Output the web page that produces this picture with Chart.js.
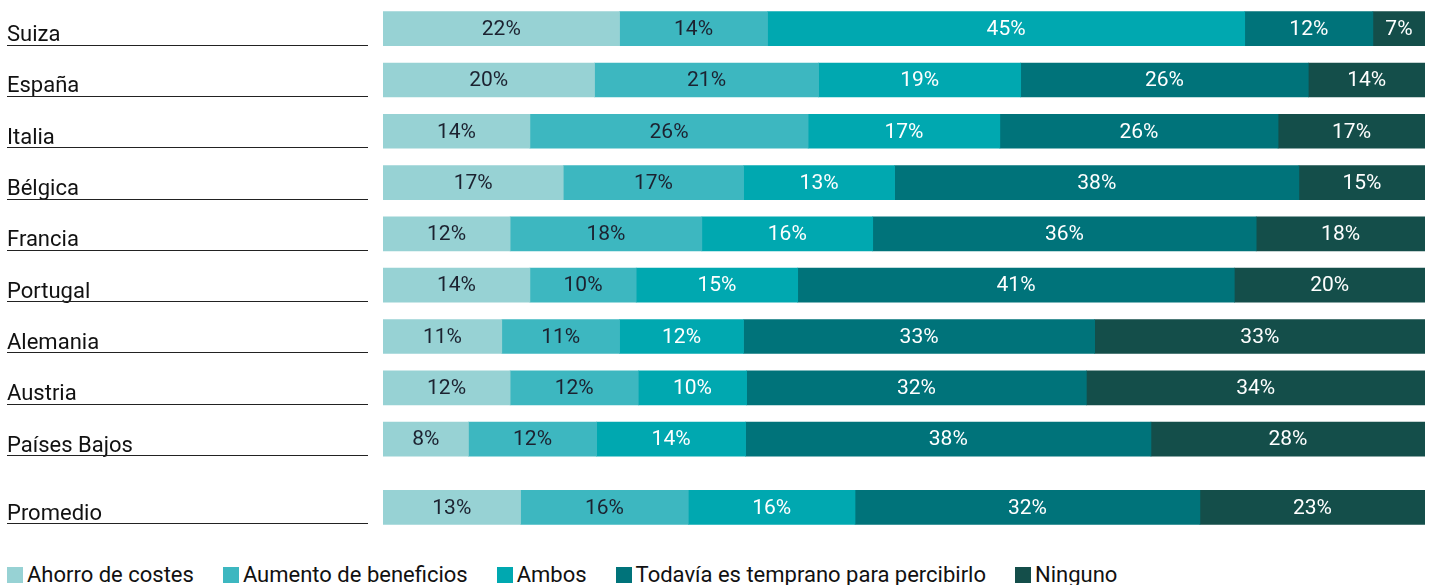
<!DOCTYPE html>
<html lang="es">
<head>
<meta charset="utf-8">
<title>Beneficios percibidos por país</title>
<script src="https://cdn.jsdelivr.net/npm/chart.js@4.4.1/dist/chart.umd.min.js"></script>
<style>
    html, body { margin: 0; padding: 0; background: #fff; }
    .wrap { position: relative; width: 1438px; height: 585px; overflow: hidden; }
    .chart-box { position: absolute; left: 0; top: 0; width: 1438px; height: 535px; }
    .legend {
        position: absolute; left: 7px; top: 563px;
        display: flex; align-items: center; white-space: nowrap;
        font-family: Roboto, "DejaVu Sans", sans-serif; font-size: 22px; line-height: 24px; color: #111;
    }
    .legend-item { display: flex; align-items: center; margin-right: 29px; }
    .legend-swatch { width: 16px; height: 16px; margin-right: 4px; }
</style>
</head>
<body>
<div class="wrap">
    <div class="chart-box"><canvas id="surveyChart"></canvas></div>
    <div class="legend" id="surveyLegend"></div>
</div>
<script>
const countries = ['Suiza', 'España', 'Italia', 'Bélgica', 'Francia', 'Portugal', 'Alemania', 'Austria', 'Países Bajos', 'Promedio'];
const seriesNames = ['Ahorro de costes', 'Aumento de beneficios', 'Ambos', 'Todavía es temprano para percibirlo', 'Ninguno'];
const seriesColors = ['#97D2D4', '#3DB7C0', '#00A8B0', '#00737A', '#144E4A'];

// bar lengths as drawn
const ahorroCostes = [22.7, 20.3, 14.1, 17.3, 12.2, 14.1, 11.4, 12.2, 8.2, 13.2];
const aumentoBeneficios = [14.2, 21.5, 26.7, 17.3, 18.4, 10.2, 11.3, 12.3, 12.3, 16.1];
const ambos = [45.8, 19.4, 18.4, 14.5, 16.4, 15.5, 11.9, 10.4, 14.3, 16.0];
const todaviaTemprano = [12.3, 27.6, 26.7, 38.8, 36.8, 41.9, 33.7, 32.6, 38.9, 33.1];
const ninguno = [5.0, 11.2, 14.1, 12.1, 16.2, 18.3, 31.7, 32.5, 26.3, 21.6];

// percentages printed inside the bars
const ahorroCostesLabels = [22, 20, 14, 17, 12, 14, 11, 12, 8, 13];
const aumentoBeneficiosLabels = [14, 21, 26, 17, 18, 10, 11, 12, 12, 16];
const ambosLabels = [45, 19, 17, 13, 16, 15, 12, 10, 14, 16];
const todaviaTempranoLabels = [12, 26, 26, 38, 36, 41, 33, 32, 38, 32];
const ningunoLabels = [7, 14, 17, 15, 18, 20, 33, 34, 28, 23];

const ChartPage = {
    FONT: 'Roboto, "DejaVu Sans", sans-serif',
    GAP_BEFORE_AVERAGE: 0.33,
    DARK_TEXT_SERIES: 2,

    init: function () {
        this.series = [ahorroCostes, aumentoBeneficios, ambos, todaviaTemprano, ninguno];
        this.seriesLabels = [ahorroCostesLabels, aumentoBeneficiosLabels, ambosLabels, todaviaTempranoLabels, ningunoLabels];
        this.createChart();
        this.buildLegend();
    },

    rowPosition: function (i) {
        // the average row sits a bit further down than the countries
        return i < countries.length - 1 ? i : i + this.GAP_BEFORE_AVERAGE;
    },

    buildDatasets: function () {
        return this.series.map((values, s) => ({
            label: seriesNames[s],
            data: values.map((v, i) => ({ x: v, y: this.rowPosition(i) })),
            backgroundColor: seriesColors[s],
            borderWidth: 0,
            barThickness: 34
        }));
    },

    segmentLabelsPlugin: function () {
        const page = this;
        return {
            id: 'segmentLabels',
            afterDatasetsDraw(chart) {
                const ctx = chart.ctx;
                ctx.save();
                ctx.font = '21px ' + page.FONT;
                ctx.textAlign = 'center';
                ctx.textBaseline = 'middle';
                chart.data.datasets.forEach((ds, s) => {
                    const meta = chart.getDatasetMeta(s);
                    ctx.fillStyle = s < page.DARK_TEXT_SERIES ? '#1c2230' : '#ffffff';
                    meta.data.forEach((bar, i) => {
                        const cx = (bar.x + bar.base) / 2;
                        ctx.fillText(page.seriesLabels[s][i] + '%', cx, bar.y + 1);
                    });
                });
                ctx.restore();
            }
        };
    },

    rowLabelsPlugin: function () {
        const page = this;
        return {
            id: 'rowLabels',
            afterDraw(chart) {
                const ctx = chart.ctx;
                const yScale = chart.scales.y;
                ctx.save();
                ctx.font = '22px ' + page.FONT;
                ctx.fillStyle = '#111';
                ctx.textAlign = 'left';
                ctx.textBaseline = 'alphabetic';
                ctx.strokeStyle = '#222';
                ctx.lineWidth = 1;
                countries.forEach((name, i) => {
                    const bottom = yScale.getPixelForValue(page.rowPosition(i)) + 17;
                    ctx.fillText(name, 7, bottom - 4.5);
                    const ly = Math.round(bottom) - 0.5;
                    ctx.beginPath();
                    ctx.moveTo(7, ly);
                    ctx.lineTo(368, ly);
                    ctx.stroke();
                });
                ctx.restore();
            }
        };
    },

    createChart: function () {
        const canvas = document.getElementById('surveyChart');
        this.chart = new Chart(canvas, {
            type: 'bar',
            data: { datasets: this.buildDatasets() },
            options: {
                indexAxis: 'y',
                responsive: true,
                maintainAspectRatio: false,
                animation: false,
                layout: { padding: { left: 383, right: 13, top: 3, bottom: 2 } },
                plugins: {
                    legend: { display: false },
                    tooltip: { enabled: false }
                },
                scales: {
                    x: { stacked: true, min: 0, max: 100, display: false },
                    y: {
                        type: 'linear',
                        stacked: true,
                        reverse: true,
                        offset: false,
                        min: -0.5,
                        max: countries.length - 0.5 + this.GAP_BEFORE_AVERAGE,
                        display: false
                    }
                }
            },
            plugins: [this.segmentLabelsPlugin(), this.rowLabelsPlugin()]
        });
    },

    buildLegend: function () {
        const box = document.getElementById('surveyLegend');
        seriesNames.forEach((name, s) => {
            const item = document.createElement('div');
            item.className = 'legend-item';
            const swatch = document.createElement('span');
            swatch.className = 'legend-swatch';
            swatch.style.background = seriesColors[s];
            const text = document.createElement('span');
            text.textContent = name;
            item.appendChild(swatch);
            item.appendChild(text);
            box.appendChild(item);
        });
    }
};

document.addEventListener('DOMContentLoaded', () => ChartPage.init());
</script>
</body>
</html>
